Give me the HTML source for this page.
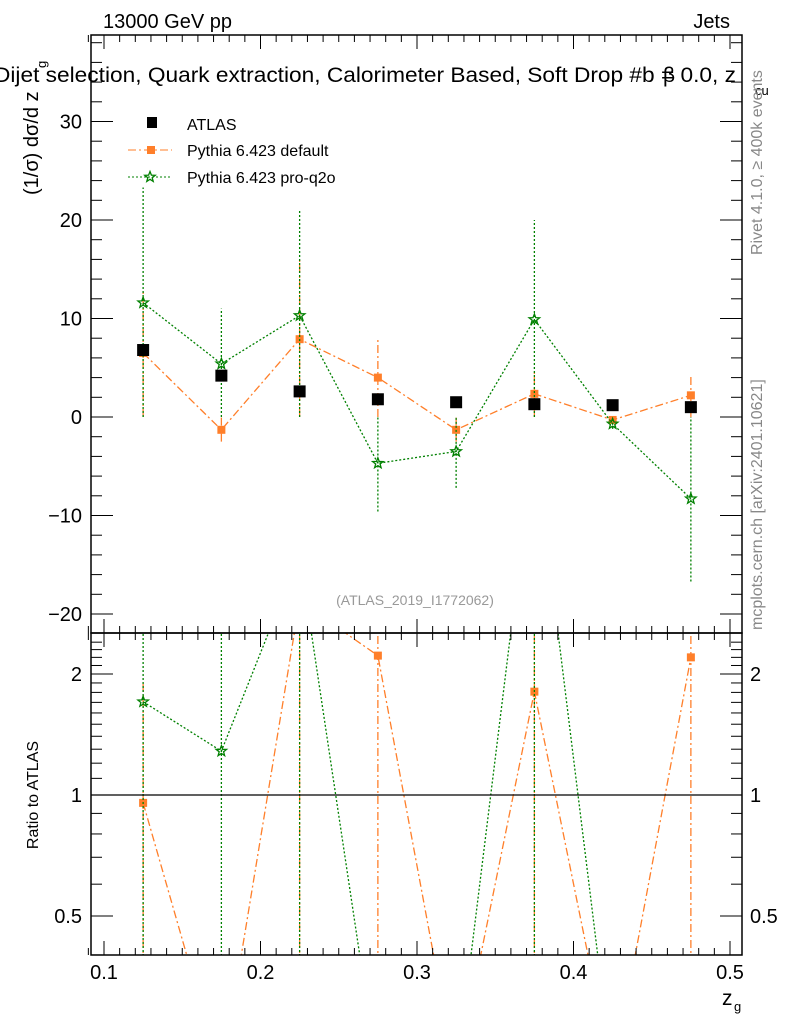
<!DOCTYPE html>
<html><head><meta charset="utf-8"><style>
html,body{margin:0;background:#fff;width:786px;height:1024px;overflow:hidden}
svg{display:block;font-family:"Liberation Sans",sans-serif}
</style></head><body>
<svg id="c" width="786" height="1024" xmlns="http://www.w3.org/2000/svg"></svg>
<script>
const xs=[0.125,0.175,0.225,0.275,0.325,0.375,0.425,0.475];
const atlas=[6.8,4.2,2.6,1.8,1.5,1.3,1.2,1.0];
const def=[6.5,-1.3,7.9,4.0,-1.3,2.35,-0.3,2.2];
const defLo=[0,-2.5,0,0,-2.5,0,-0.6,0];
const defHi=[13,0,16,8,0,4.5,0,4.3];
const pro=[11.6,5.4,10.3,-4.7,-3.5,9.9,-0.7,-8.3];
const proLo=[0,0,0,-9.6,-7.2,0,-1.2,-16.7];
const proHi=[23.3,11,21,0,0,20,0,0];
const mainTicks=[-20,-10,0,10,20,30];
const xTicks=[0.1,0.2,0.3,0.4,0.5];
const rTicks=[0.5,1,2];

const S=document.getElementById('c');const NS='http://www.w3.org/2000/svg';
function el(t,a,p){const e=document.createElementNS(NS,t);for(const k in a)e.setAttribute(k,a[k]);(p||S).appendChild(e);return e;}
const L=91,R=742,T=35,M=633,B=955;
const X=v=>104+(v-0.1)*1565;
const Y=v=>417-v*9.85;
const RY=v=>795-Math.log2(Math.max(v,0.2))*121;
const ORG='#ff7f2a',GRN='#008000';
const defs=el('defs',{});
const c1=el('clipPath',{id:'cm'},defs);el('rect',{x:L,y:T,width:R-L,height:M-T},c1);
const c2=el('clipPath',{id:'cr'},defs);el('rect',{x:L,y:M,width:R-L,height:B-M},c2);
const gm=el('g',{'clip-path':'url(#cm)'});
const gr=el('g',{'clip-path':'url(#cr)'});
for(const [y1,y2,n] of [[T,M,'main-frame'],[M,B,'ratio-frame']]){const r=el('rect',{x:L,y:y1,width:R-L,height:y2-y1,fill:'none',stroke:'#000','stroke-width':1.5});}
for(let v=0.09;v<=0.5051;v+=0.01){const maj=Math.abs(v*10-Math.round(v*10))<1e-6;const x=X(v);const l=maj?14:7;
 for(const [ya,d] of [[T,1],[M,-1],[M,1],[B,-1]])el('line',{x1:x,x2:x,y1:ya,y2:ya+d*l,stroke:'#000','stroke-width':1});}
xTicks.forEach(v=>{const t=el('text',{x:X(v),y:979,'font-size':20,'text-anchor':'middle'});t.textContent=v.toFixed(1);});
for(let v=-22;v<=38;v+=2){const y=Y(v);if(y<T||y>M)continue;const maj=v%10===0;const l=maj?22:11;
 el('line',{x1:L,x2:L+l,y1:y,y2:y,stroke:'#000'});el('line',{x1:R,x2:R-l,y1:y,y2:y,stroke:'#000'});}
mainTicks.forEach(v=>{const t=el('text',{x:82,y:Y(v)+7,'font-size':20,'text-anchor':'end'});t.textContent=v<0?'\u2212'+(-v):v;});
[0.4,0.5,0.6,0.7,0.8,0.9,1,2].forEach(v=>{const y=RY(v);const maj=rTicks.includes(v);const l=maj?22:11;el('line',{x1:L,x2:L+l,y1:y,y2:y,stroke:'#000'});el('line',{x1:R,x2:R-l,y1:y,y2:y,stroke:'#000'});});
for(let v=1.1;v<2.5;v+=0.1){const y=RY(v);if(y<M)continue;el('line',{x1:L,x2:L+11,y1:y,y2:y,stroke:'#000'});el('line',{x1:R,x2:R-11,y1:y,y2:y,stroke:'#000'});}
rTicks.forEach(v=>{for(const [x,a] of [[82,'end'],[750,'start']]){const t=el('text',{x:x,y:RY(v)+7,'font-size':20,'text-anchor':a});t.textContent=v;}});
el('line',{x1:L,x2:R,y1:RY(1),y2:RY(1),stroke:'#000','stroke-width':1.2});
function txt(s,a,n){const t=el('text',a);t.textContent=s;return t;}
txt('13000 GeV pp',{x:103,y:28,'font-size':20},'energy-label');
txt('Jets',{x:730,y:28,'font-size':20,'text-anchor':'end'},'process-label');
txt('Dijet selection, Quark extraction, Calorimeter Based, Soft Drop #b = 0.0, z',{x:-6,y:82,'font-size':21,textLength:742,lengthAdjust:'spacingAndGlyphs'},'plot-title');
txt('cu',{x:755,y:95,'font-size':13},'title-sub');
txt('\u03b2',{x:663,y:82,'font-size':21},'title-beta');
txt('(1/\u03c3) d\u03c3/d z',{x:0,y:0,'font-size':20,transform:'translate(38,195) rotate(-90)'},'y-axis-title');
txt('g',{x:0,y:0,'font-size':13,transform:'translate(46,68) rotate(-90)'},'y-axis-sub');
txt('Ratio to ATLAS',{x:0,y:0,'font-size':16,'text-anchor':'middle',transform:'translate(38,795) rotate(-90)'},'ratio-axis-title');
txt('z',{x:722,y:1005,'font-size':21},'x-axis-title');txt('g',{x:734,y:1011,'font-size':13},'x-axis-sub');
txt('Rivet 4.1.0, \u2265 400k events',{x:0,y:0,'font-size':16,fill:'#888',transform:'translate(762,255) rotate(-90)'},'rivet-label');
txt('mcplots.cern.ch [arXiv:2401.10621]',{x:0,y:0,'font-size':16,fill:'#888',transform:'translate(762,630) rotate(-90)'},'mcplots-label');
txt('(ATLAS_2019_I1772062)',{x:415,y:605,'font-size':14,fill:'#999','text-anchor':'middle'},'analysis-id');
const lg=el('g',{});
el('rect',{x:147,y:117,width:10,height:11,fill:'#000'},lg);
txt('ATLAS',{x:187,y:130,'font-size':16},'legend-atlas');
el('line',{x1:128,x2:172,y1:150,y2:150,stroke:ORG,'stroke-dasharray':'8,3,2,3'},lg);el('rect',{x:147,y:146,width:8,height:8,fill:ORG},lg);
txt('Pythia 6.423 default',{x:187,y:156,'font-size':16},'legend-default');
el('line',{x1:128,x2:172,y1:177,y2:177,stroke:GRN,'stroke-dasharray':'2,2'},lg);
txt('Pythia 6.423 pro-q2o',{x:187,y:183,'font-size':16},'legend-proq2o');
function star(x,y,g,n){const p=[];for(let i=0;i<10;i++){const r=i%2?2.3:5.5;const a=-Math.PI/2+i*Math.PI/5;p.push((x+r*Math.cos(a)).toFixed(1)+','+(y+r*Math.sin(a)).toFixed(1));}
 const s=el('polygon',{points:p.join(' '),fill:'none',stroke:GRN,'stroke-width':1.3},g);}
star(150,177,lg,'legend-star');
function series(g,vals,lo,hi,yf,col,dash,mk,name){
 el('polyline',{points:xs.map((x,i)=>X(x)+','+yf(vals[i])).join(' '),fill:'none',stroke:col,'stroke-width':1.3,'stroke-dasharray':dash},g);
 xs.forEach((x,i)=>{const e=el('line',{x1:X(x),x2:X(x),y1:yf(lo[i]),y2:yf(hi[i]),stroke:col,'stroke-width':1.3,'stroke-dasharray':dash},g);
  if(mk==='sq'){const r=el('rect',{x:X(x)-4,y:yf(vals[i])-4,width:8,height:8,fill:col},g);}
  else star(X(x),yf(vals[i]),g,name+'-point');});}
series(gm,def,defLo,defHi,Y,ORG,'8,3,2,3','sq','default');
series(gm,pro,proLo,proHi,Y,GRN,'2,2','st','proq2o');
xs.forEach((x,i)=>{const r=el('rect',{x:X(x)-6,y:Y(atlas[i])-6,width:12,height:12,fill:'#000'},gm);});
const rd=def.map((v,i)=>v/atlas[i]),rp=pro.map((v,i)=>v/atlas[i]);
const rdl=defLo.map((v,i)=>v/atlas[i]),rdh=defHi.map((v,i)=>v/atlas[i]);
const rpl=proLo.map((v,i)=>v/atlas[i]),rph=proHi.map((v,i)=>v/atlas[i]);
series(gr,rd,rdl,rdh,RY,ORG,'8,3,2,3','sq','ratio-default');
series(gr,rp,rpl,rph,RY,GRN,'2,2','st','ratio-proq2o');
</script>
</body></html>
